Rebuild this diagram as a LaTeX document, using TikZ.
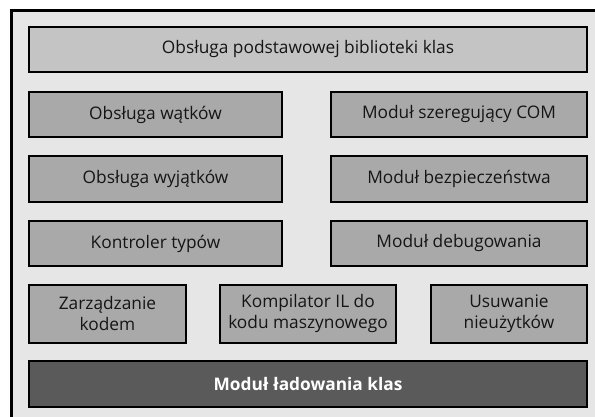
\documentclass[tikz,border=0pt]{standalone}
\usepackage{fontspec}
\setmainfont{Open Sans}
\definecolor{bgc}{HTML}{E6E6E6}
\definecolor{topc}{HTML}{C4C4C4}
\definecolor{midc}{HTML}{A9A9A9}
\definecolor{botc}{HTML}{5A5A5A}
\definecolor{txtc}{HTML}{151515}
\begin{document}
\begin{tikzpicture}[x=1pt,y=-1pt,
  box/.style={draw=black,line width=2pt,fill=midc,text=txtc,font=\fontsize{17.3}{21}\selectfont,align=center,inner sep=0pt},
  topbox/.style={box,fill=topc},
  botbox/.style={box,fill=botc,text=white,font=\fontsize{17.3}{21}\selectfont\bfseries}]
\useasboundingbox (0,0) rectangle (595,417);
\fill[white] (0,0) rectangle (595,417);
\fill[bgc] (10,10) rectangle (596,418);
\draw[line width=3pt] (11,418) -- (11,10.5) -- (596,10.5);
% rows
\node[topbox,minimum width=558pt,minimum height=45pt] (lib) at (308,49.5) {Obsługa podstawowej biblioteki klas};
\node[box,minimum width=253pt,minimum height=45pt] (wat) at (155.5,114.5) {Obsługa wątków};
\node[box,minimum width=256pt,minimum height=45pt] (com) at (459,114.5) {Moduł szeregujący COM};
\node[box,minimum width=253pt,minimum height=46pt] (wyj) at (155.5,179) {Obsługa wyjątków};
\node[box,minimum width=256pt,minimum height=46pt] (bez) at (459,179) {Moduł bezpieczeństwa};
\node[box,minimum width=253pt,minimum height=45pt] (typ) at (155.5,243.5) {Kontroler typów};
\node[box,minimum width=256pt,minimum height=45pt] (deb) at (459,243.5) {Moduł debugowania};
\node[box,minimum width=157pt,minimum height=58pt] (kod) at (107.5,313.5) {Zarządzanie\\kodem};
\node[box,minimum width=176pt,minimum height=58pt] (jit) at (308,313.5) {Kompilator IL do\\kodu maszynowego};
\node[box,minimum width=156pt,minimum height=58pt] (gc) at (509,313.5) {Usuwanie\\nieużytków};
\node[botbox,minimum width=558pt,minimum height=46pt] (load) at (308,384) {Moduł ładowania klas};
\end{tikzpicture}
\end{document}
